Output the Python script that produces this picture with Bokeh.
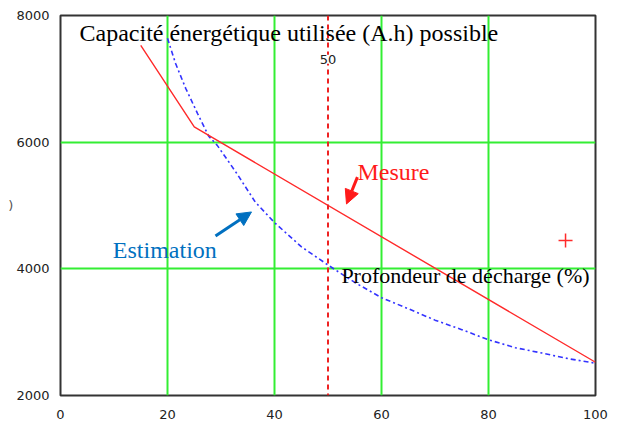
from bokeh.plotting import figure
from bokeh.models import Range1d, FixedTicker, Span, Label, Arrow, NormalHead
from bokeh.embed import file_html
from bokeh.resources import INLINE

# ---- data ----
x_ticks = [0, 20, 40, 60, 80, 100]
y_ticks = [2000, 4000, 6000, 8000]
x_grid = [20, 40, 60, 80]
y_grid = [4000, 6000]

mesure_x = [15, 25, 100]
mesure_y = [7530, 6240, 2525]

estim_x = [20, 21.5, 23.4, 25.6, 27.7, 29.3, 33, 36.4, 40, 45, 50, 55, 60, 65, 70, 75, 80, 85, 90, 95, 100]
estim_y = [7640, 7245, 6850, 6455, 6095, 5950, 5500, 5055, 4730, 4350, 4060, 3785, 3545, 3370, 3190, 3040, 2880, 2755, 2670, 2580, 2510]

marker_x = [94.4]
marker_y = [4446]

depth_marker = 50

title_text = "Capacité énergétique utilisée (A.h) possible"
xlabel_text = "Profondeur de décharge (%)"
ylabel_text = ")"
mesure_text = "Mesure"
estim_text = "Estimation"

SERIF = "Liberation Serif"
SANS = "DejaVu Sans"
BLUE_TXT = "#0070C0"

p = figure(width=617, height=421, x_range=Range1d(0, 100), y_range=Range1d(2000, 8000),
           output_backend="svg", toolbar_location=None,
           min_border_left=60, min_border_right=22, min_border_top=15, min_border_bottom=25)

p.background_fill_color = "white"
p.border_fill_color = "white"
p.outline_line_color = "#333333"
p.outline_line_width = 2

for ax in (p.xaxis[0], p.yaxis[0]):
    ax.axis_line_color = None
    ax.major_tick_line_color = None
    ax.minor_tick_line_color = None
    ax.major_label_text_font = SANS
    ax.major_label_text_font_size = "13px"
    ax.major_label_text_color = "#222222"
p.xaxis.ticker = FixedTicker(ticks=x_ticks)
p.yaxis.ticker = FixedTicker(ticks=y_ticks)
p.xaxis.major_label_standoff = 8
p.yaxis.major_label_standoff = 5

p.yaxis.axis_label = ylabel_text
p.yaxis.axis_label_orientation = "horizontal"
p.yaxis.axis_label_standoff = 0
p.yaxis.axis_label_text_font = SANS
p.yaxis.axis_label_text_font_style = "normal"
p.yaxis.axis_label_text_font_size = "13px"
p.yaxis.axis_label_text_color = "#555555"

p.xgrid.ticker = FixedTicker(ticks=x_grid)
p.ygrid.ticker = FixedTicker(ticks=y_grid)
for g in (p.xgrid[0], p.ygrid[0]):
    g.grid_line_color = "#33ee33"
    g.grid_line_width = 2
    g.grid_line_alpha = 1.0

# red dashed marker line at 50
p.add_layout(Span(location=depth_marker, dimension="height", line_color="#ee2222",
                  line_width=2, line_dash="5 4"))

# lines
p.line(estim_x, estim_y, line_color="#3333ff", line_width=1.6, line_dash="5 3 2 3")
p.line(mesure_x, mesure_y, line_color="#ff2a2a", line_width=1.4)
p.scatter(marker_x, marker_y, marker="cross", size=14, line_color="#ff2a2a", line_width=1.5)

# texts
p.add_layout(Label(x=3.55, y=7717, text=title_text, text_font=SERIF, text_font_size="24px",
                   text_color="black", text_align="left", text_baseline="alphabetic"))
p.add_layout(Label(x=52.5, y=3895, text=xlabel_text, text_font=SERIF,
                   text_font_size="22px", text_color="black", text_align="left",
                   text_baseline="alphabetic"))
p.add_layout(Label(x=55.5, y=5528, text=mesure_text, text_font=SERIF, text_font_size="24px",
                   text_color="#ff1a1a", text_align="left", text_baseline="alphabetic"))
p.add_layout(Label(x=9.78, y=4295, text=estim_text, text_font=SERIF, text_font_size="24px",
                   text_color=BLUE_TXT, text_align="left", text_baseline="alphabetic"))
p.add_layout(Label(x=depth_marker, y=7310, text=str(depth_marker), text_font=SANS,
                   text_font_size="13px", text_color="#222222", text_align="center",
                   text_baseline="middle", background_fill_color="white"))

# arrows
p.add_layout(Arrow(end=NormalHead(size=14, fill_color="#ff1a1a", line_color="#ff1a1a"),
                   x_start=55.5, y_start=5449, x_end=53.46, y_end=5024,
                   line_color="#ff1a1a", line_width=3))
p.add_layout(Arrow(end=NormalHead(size=14, fill_color=BLUE_TXT, line_color=BLUE_TXT),
                   x_start=28.97, y_start=4520, x_end=35.7, y_end=4898,
                   line_color=BLUE_TXT, line_width=3))

open("out.html", "w").write(file_html(p, INLINE))
